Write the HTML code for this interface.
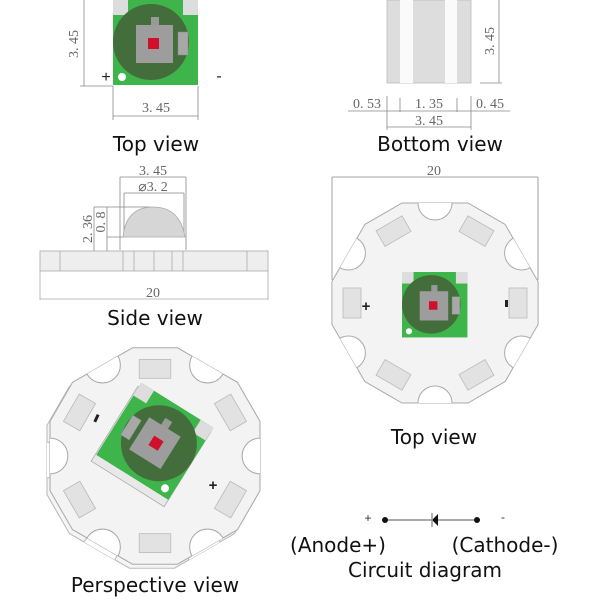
<!DOCTYPE html>
<html><head><meta charset="utf-8"><style>
html,body{margin:0;padding:0;background:#fff;width:600px;height:600px;overflow:hidden}
svg{display:block}
.dim{font-family:"Liberation Serif",serif;font-size:14px;fill:#666}
.lbl{font-family:"DejaVu Sans","Liberation Sans",sans-serif;font-size:20px;fill:#111}
</style></head><body>
<svg width="600" height="600" viewBox="0 0 600 600" xmlns="http://www.w3.org/2000/svg">
<defs>
<g id="comp">
  <rect x="0" y="0" width="85" height="85" fill="#3db54a"/>
  <rect x="0" y="0" width="15" height="15" fill="#ddd"/>
  <rect x="70" y="0" width="15" height="15" fill="#ddd"/>
  <circle cx="38" cy="42" r="38" fill="#446d3c"/>
  <rect x="38" y="17" width="8" height="9" fill="#999"/>
  <rect x="23" y="25" width="37" height="38" fill="#9d9d9d"/>
  <rect x="35" y="38" width="11" height="11" fill="#d0102a"/>
  <rect x="65" y="32" width="10" height="23" fill="#a8a8a8" stroke="#888" stroke-width="0.5"/>
  <circle cx="9" cy="77" r="4" fill="#fff"/>
</g>
<clipPath id="hexclip"><polygon points="-33,-100 33,-100 70.1,-78.6 103.1,-21.4 103.1,21.4 70.1,78.6 33,100 -33,100 -70.1,78.6 -103.1,21.4 -103.1,-21.4 -70.1,-78.6"/></clipPath>
<g id="star">
  <polygon points="-33,-100 33,-100 70.1,-78.6 103.1,-21.4 103.1,21.4 70.1,78.6 33,100 -33,100 -70.1,78.6 -103.1,21.4 -103.1,-21.4 -70.1,-78.6" fill="#f3f3f3" stroke="#aaa" stroke-width="1"/>
  <g clip-path="url(#hexclip)" fill="#fff" stroke="#aaa" stroke-width="1">
    <circle cx="0" cy="-100" r="17"/><circle cx="86.6" cy="-50" r="17"/><circle cx="86.6" cy="50" r="17"/>
    <circle cx="0" cy="100" r="17"/><circle cx="-86.6" cy="50" r="17"/><circle cx="-86.6" cy="-50" r="17"/>
  </g>
  <g fill="#e2e2e2" stroke="#bbb" stroke-width="0.8">
    <rect x="-92" y="-15" width="18" height="30"/>
    <rect x="74" y="-15" width="18" height="30"/>
    <rect x="-92" y="-15" width="18" height="30" transform="rotate(60)"/>
    <rect x="-92" y="-15" width="18" height="30" transform="rotate(120)"/>
    <rect x="-92" y="-15" width="18" height="30" transform="rotate(-60)"/>
    <rect x="-92" y="-15" width="18" height="30" transform="rotate(-120)"/>
  </g>
</g>
</defs>

<!-- Top view LED -->
<use href="#comp" x="113" y="0"/>
<g stroke="#888" stroke-width="0.8" fill="none">
  <line x1="84" y1="0" x2="84" y2="86"/><line x1="80" y1="86" x2="113" y2="86"/>
  <line x1="113" y1="86" x2="113" y2="120"/><line x1="198" y1="86" x2="198" y2="120"/>
  <line x1="113" y1="116" x2="198" y2="116"/>
</g>
<text class="dim" transform="translate(78,44) rotate(-90)" text-anchor="middle">3. 45</text>
<text x="106" y="82" font-family="Liberation Sans" font-size="16" text-anchor="middle" fill="#222">+</text>
<text x="219" y="81" font-family="Liberation Sans" font-size="16" text-anchor="middle" fill="#222">-</text>
<text class="dim" x="156" y="112" text-anchor="middle">3. 45</text>
<text class="lbl" x="156" y="151" text-anchor="middle">Top view</text>

<!-- Bottom view -->
<rect x="387" y="0" width="84" height="83" fill="#ddd" stroke="#bbb" stroke-width="0.8"/>
<rect x="400" y="0" width="13" height="83" fill="#fafafa"/>
<rect x="445" y="0" width="12" height="83" fill="#fafafa"/>
<g stroke="#888" stroke-width="0.8">
  <line x1="499" y1="0" x2="499" y2="83"/><line x1="480" y1="83" x2="502" y2="83"/>
  <line x1="348" y1="111" x2="510" y2="111"/>
  <line x1="387" y1="96" x2="387" y2="130"/><line x1="471" y1="96" x2="471" y2="130"/>
  <line x1="400" y1="98" x2="400" y2="112"/><line x1="457" y1="98" x2="457" y2="112"/>
  <line x1="387" y1="127" x2="471" y2="127"/>
</g>
<text class="dim" transform="translate(494,41) rotate(-90)" text-anchor="middle">3. 45</text>
<text class="dim" x="367" y="108" text-anchor="middle">0. 53</text>
<text class="dim" x="429" y="108" text-anchor="middle">1. 35</text>
<text class="dim" x="490" y="108" text-anchor="middle">0. 45</text>
<text class="dim" x="429" y="125" text-anchor="middle">3. 45</text>
<text class="lbl" x="440" y="151" text-anchor="middle">Bottom view</text>

<!-- Side view -->
<g stroke="#888" stroke-width="0.8" fill="none">
  <line x1="120" y1="177" x2="186" y2="177"/><line x1="120" y1="177" x2="120" y2="250"/><line x1="186" y1="177" x2="186" y2="250"/>
  <line x1="124" y1="193" x2="184" y2="193"/><line x1="124" y1="193" x2="124" y2="237"/><line x1="184" y1="193" x2="184" y2="237"/>
  <line x1="94" y1="207" x2="150" y2="207"/><line x1="94" y1="207" x2="94" y2="251"/>
  <line x1="107" y1="237" x2="124" y2="237"/><line x1="107" y1="207" x2="107" y2="251"/>
</g>
<path d="M123,237 Q126,207 153,207 Q180,207 185,237 Z" fill="#d6d6d6" stroke="#aaa" stroke-width="0.8"/>
<rect x="40" y="251" width="228" height="20" fill="#eee" stroke="#aaa" stroke-width="0.8"/>
<g stroke="#aaa" stroke-width="0.8">
  <line x1="60" y1="251" x2="60" y2="271"/><line x1="123" y1="251" x2="123" y2="271"/><line x1="134" y1="251" x2="134" y2="271"/>
  <line x1="154" y1="251" x2="154" y2="271"/><line x1="172" y1="251" x2="172" y2="271"/><line x1="183" y1="251" x2="183" y2="271"/>
  <line x1="247" y1="251" x2="247" y2="271"/>
  <line x1="40" y1="271" x2="40" y2="300"/><line x1="268" y1="271" x2="268" y2="300"/>
  <line x1="40" y1="299" x2="268" y2="299"/>
</g>
<text class="dim" x="153" y="175" text-anchor="middle">3. 45</text>
<text class="dim" x="153" y="191" text-anchor="middle">⌀3. 2</text>
<text class="dim" transform="translate(92,229) rotate(-90)" text-anchor="middle">2. 36</text>
<text class="dim" transform="translate(105,222) rotate(-90)" text-anchor="middle">0. 8</text>
<text class="dim" x="153" y="297" text-anchor="middle">20</text>
<text class="lbl" x="155" y="325" text-anchor="middle">Side view</text>

<!-- Top view star -->
<g stroke="#888" stroke-width="0.8">
  <line x1="332" y1="177" x2="538" y2="177"/><line x1="332" y1="177" x2="332" y2="280"/><line x1="538" y1="177" x2="538" y2="280"/>
</g>
<text class="dim" x="434" y="175" text-anchor="middle">20</text>
<use href="#star" transform="translate(435,303)"/>
<use href="#comp" transform="translate(402,272) scale(0.77)"/>
<text x="366" y="311" font-family="Liberation Sans" font-weight="bold" font-size="15" text-anchor="middle" fill="#222">+</text>
<rect x="505" y="300" width="3" height="7" fill="#222"/>
<text class="lbl" x="434" y="444" text-anchor="middle">Top view</text>

<!-- Perspective -->
<use href="#star" transform="translate(152,460) rotate(90) scale(1.05)" opacity="0.8"/>
<use href="#star" transform="translate(155,456) rotate(90) scale(1.05)"/>
<g transform="translate(155,442) rotate(32)">
  <rect x="-44" y="-38" width="86" height="88" fill="#e8e8e8" stroke="#aaa" stroke-width="0.8"/>
  <use href="#comp" transform="translate(42,-43) scale(-1,1)"/>
</g>
<rect x="95" y="414" width="3" height="8" fill="#222" transform="rotate(25 96 418)"/>
<text x="213" y="490" font-family="Liberation Sans" font-weight="bold" font-size="15" text-anchor="middle" fill="#222">+</text>
<text class="lbl" x="155" y="592" text-anchor="middle">Perspective view</text>

<!-- Circuit -->
<text x="368" y="522" font-family="Liberation Sans" font-size="12" text-anchor="middle" fill="#333">+</text>
<text x="503" y="521" font-family="Liberation Sans" font-size="12" text-anchor="middle" fill="#333">-</text>
<line x1="385" y1="520" x2="477" y2="520" stroke="#555" stroke-width="1"/>
<circle cx="385" cy="520" r="3" fill="#111"/><circle cx="477" cy="520" r="3" fill="#111"/>
<polygon points="432,520 438,514 438,526" fill="#111"/>
<line x1="432" y1="513" x2="432" y2="527" stroke="#999" stroke-width="1.5"/>
<text class="lbl" x="338" y="552" text-anchor="middle">(Anode+)</text>
<text class="lbl" x="505" y="552" text-anchor="middle">(Cathode-)</text>
<text class="lbl" x="425" y="577" text-anchor="middle">Circuit diagram</text>
</svg>
</body></html>
